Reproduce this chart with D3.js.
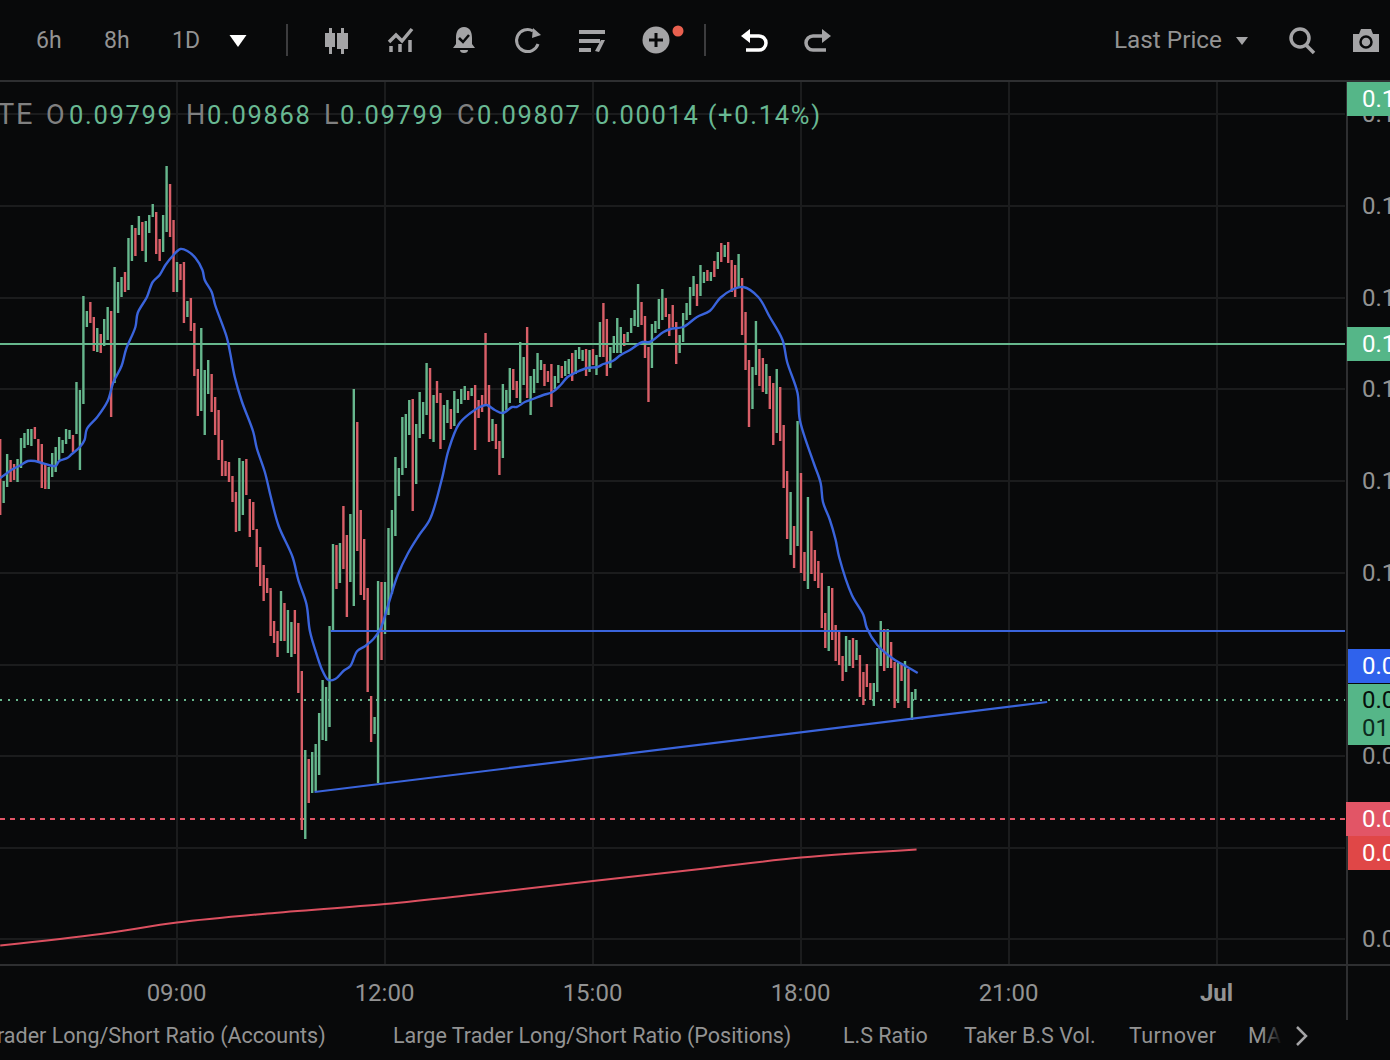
<!DOCTYPE html>
<html>
<head>
<meta charset="utf-8">
<script src="https://cdn.jsdelivr.net/npm/d3@7/dist/d3.min.js"></script>
<style>
  html, body { margin: 0; padding: 0; background: #08090a; overflow: hidden; }
  svg { display: block; font-family: Roboto, sans-serif; }
</style>
</head>
<body>
<svg id="chart" width="1390" height="1060"></svg>
<script>
// Three-minute bars from 06:27; prices are integers of 0.00001.
const barHighs = [
10329,10245,10299,10287,10279,10289,10331,10341,10349,10349,10353,10329,10319,10281,10273,10301,10313,10333,10327,10349,
10347,10337,10443,10427,10615,10585,10603,10573,10551,10539,10569,10593,10585,10673,10643,10653,10663,10731,10757,10751,
10775,10763,10765,10777,10799,10783,10729,10777,10875,10839,10767,10683,10679,10683,10605,10611,10561,10469,10551,10467,
10487,10459,10413,10387,10327,10285,10283,10255,10223,10291,10285,10289,10209,10203,10149,10113,10077,10051,10031,9965,
9945,10025,10001,9987,9963,9987,9961,9865,9707,9689,9703,9719,9781,9847,9833,9955,10119,10117,10121,10195,
10137,10179,10429,10363,10187,10129,10031,9815,9773,10045,10043,10043,10151,10187,10293,10271,10373,10379,10407,10409,
10359,10423,10403,10481,10471,10417,10445,10421,10397,10407,10389,10425,10409,10429,10435,10425,10431,10437,10407,10417,
10541,10437,10369,10359,10325,10439,10427,10471,10469,10445,10523,10493,10553,10455,10469,10501,10487,10479,10465,10479,
10455,10477,10475,10485,10489,10501,10507,10513,10507,10509,10507,10509,10497,10563,10601,10569,10513,10535,10571,10553,
10539,10543,10571,10587,10639,10603,10575,10513,10559,10565,10609,10629,10611,10579,10597,10563,10537,10581,10601,10633,
10655,10639,10677,10663,10667,10663,10685,10703,10721,10717,10723,10687,10677,10699,10651,10583,10487,10473,10565,10509,
10491,10479,10455,10441,10469,10433,10357,10265,10223,10155,10365,10261,10103,10213,10145,10107,10085,10061,9981,10035,
10031,9957,9945,9895,9935,9927,9931,9927,9897,9863,9879,9841,9841,9911,9965,9949,9949,9923,9883,9881,
9879,9885,9869,9823,9829];
const barLows = [
10177,10201,10233,10243,10247,10243,10271,10311,10317,10315,10329,10281,10231,10229,10229,10253,10263,10287,10301,10319,
10329,10303,10339,10267,10399,10553,10561,10505,10503,10501,10515,10527,10373,10441,10581,10613,10623,10627,10685,10695,
10737,10705,10683,10741,10773,10699,10685,10703,10743,10733,10623,10623,10647,10561,10573,10545,10455,10375,10385,10337,
10419,10383,10337,10287,10255,10255,10243,10203,10143,10145,10177,10217,10133,10147,10073,10035,10005,10021,9935,9921,
9893,9925,9925,9901,9893,9899,9821,9547,9529,9601,9621,9625,9657,9727,9725,9753,9945,10029,10041,10069,
9973,10043,9995,10105,10017,10007,9823,9723,9739,9641,9887,9939,9977,10019,10135,10215,10257,10271,10337,10185,
10239,10331,10339,10377,10329,10323,10401,10309,10327,10361,10349,10355,10381,10399,10407,10407,10415,10307,10371,10383,
10397,10323,10325,10309,10257,10291,10387,10401,10427,10411,10401,10437,10411,10377,10421,10441,10467,10435,10443,10393,
10429,10441,10451,10455,10459,10445,10459,10489,10485,10455,10463,10477,10457,10493,10493,10455,10471,10501,10501,10501,
10515,10523,10541,10555,10553,10557,10491,10403,10471,10541,10549,10567,10573,10535,10553,10479,10501,10523,10567,10577,
10615,10595,10615,10641,10645,10645,10653,10669,10683,10693,10681,10623,10613,10631,10537,10467,10353,10389,10457,10435,
10423,10419,10389,10317,10341,10325,10231,10129,10097,10071,10115,10061,10045,10029,10059,10045,10031,9951,9911,9905,
9927,9885,9877,9845,9863,9875,9871,9887,9813,9797,9833,9807,9795,9823,9875,9865,9871,9871,9791,9801,
9845,9805,9791,9767,9807];
const barDirections = (
"rggrrggggg" + "rrrrgggggg" + "grggggrrgr" + "ggrgggrggr" + "grgggrrggr" +
"rgrrgrrrgg" + "grrrrrrrrg" + "grrrrrrrrr" + "rgrggrrrgr" + "gggggggrgr" +
"rggrrrrrgg" + "rggggggggr" + "ggggrgrrgg" + "rggggrgrrr" + "rrgrrgggrr" +
"ggrggggrrr" + "ggrggrgggr" + "grggrrgggg" + "rggggrrrgg" + "ggrrrrgggg" +
"grggrgrgrg" + "rrrgrrrggr" + "rgrrgrrrgr" + "grrgrrrrrg" + "rrrrggrgrr" +
"rrgggrgrrg" + "rgrgg").split("");

// Fast average: minutes after 06:27 and the average at that minute.
const fastMaMinutes = [0,6,11,18,24,30,36,42,48,51,58,62,69,73,75,84,93,98,105,109,117,119,127,132,138,143,150,156,162,169,175,177,183,186,196,199,203,209,219,222,229,234,241,253,258,265,268,274,279,284,290,297,303,309,316,323,329,336,344,353,362,372,382,388,397,407,415,421,428,435,443,447,454,461,470,478,485,491,499,508,517,522,530,537,545,556,562,574,580,591,603,614,623,633,643,656,666,677,681,690,692,704,710,712,718,723,726,737,747,750,759,773,785,794];
const fastMaValues = [10251,10261,10269,10277,10285,10285,10281,10277,10275,10285,10291,10299,10313,10327,10349,10373,10405,10443,10475,10509,10553,10581,10613,10643,10657,10677,10697,10709,10705,10691,10667,10647,10623,10597,10533,10501,10453,10405,10343,10311,10263,10215,10155,10093,10047,9999,9945,9897,9865,9847,9849,9865,9875,9905,9915,9929,9949,9999,10057,10101,10135,10169,10247,10307,10359,10381,10393,10397,10387,10381,10393,10393,10403,10409,10417,10423,10437,10453,10463,10471,10473,10479,10485,10497,10507,10523,10523,10543,10549,10553,10573,10585,10611,10627,10633,10613,10573,10527,10483,10421,10367,10281,10241,10203,10167,10127,10093,10017,9977,9951,9917,9889,9873,9861];

// Slow average.
const slowMaMinutes = [0,87,153,231,333,407,513,606,693,793];
const slowMaValues = [9316,9339,9362,9380,9399,9417,9445,9469,9492,9508];

// Levels and trend line.
const resistanceLevel = 10519;
const supportLevel = 9569;
const zoneLevel = 9945;
const zoneStartMinute = 286;
const lastPrice = 9807;
const trendMinutes = [272, 906];
const trendValues = [9623, 9803];

// Axis contents; labels behind the price badges are left blank.
const priceTicks = [10979,10795,10611,10429,10245,10061,9877,9695,9511,9329];
const badgedTicks = [9877, 9511];
const timeTicksHours = [9, 12, 15, 18, 21, 24];
const timeFrames = [["6h", 36], ["8h", 104], ["1D", 172]];
const ohlcLabels = [["O", "0.09799"], ["H", "0.09868"], ["L", "0.09799"], ["C", "0.09807"]];
const bottomTabs = [
  ["rader Long/Short Ratio (Accounts)", -3], ["Large Trader Long/Short Ratio (Positions)", 393],
  ["L.S Ratio", 843], ["Taker B.S Vol.", 964], ["Turnover", 1129], ["MA", 1248]
];

const plot = { left: 0, right: 1347, top: 82, bottom: 965 };
const colors = {
  bg: "#08090a", grid: "#1b1c1d", axis: "#2e2f31", up: "#66b78d", down: "#d95f68", blue: "#3a64dc",
  text: "#939393", icon: "#a4a4a6", badgeUp: "#55b688", badgeBlue: "#2f62ec", badgeSoftRed: "#e25566", badgeRed: "#e04747",
  legend: "#68b892", legendKey: "#808080", slowMa: "#dc5060"
};

const day = Date.UTC(2024, 5, 30);
const atHour = h => new Date(day + h * 3600e3);
const startTime = day + (6 * 60 + 27) * 60e3;
const atMinute = m => new Date(startTime + m * 60e3);

// 3 h = 208 px, 09:00 sits at x = 177.
const x = d3.scaleUtc().domain([atHour(9), atHour(24)]).range([177, 1217]);
const y = d3.scaleLinear().domain([9807, 11207]).range([700, 0]);

const svg = d3.select("#chart");
svg.append("rect").attr("width", 1390).attr("height", 1060).attr("fill", colors.bg);

// Grid
svg.append("g").selectAll("line").data(priceTicks).join("line")
  .attr("x1", plot.left).attr("x2", plot.right - 2).attr("y1", d => y(d)).attr("y2", d => y(d))
  .attr("stroke", colors.grid).attr("stroke-width", 2);
svg.append("g").selectAll("line").data(timeTicksHours).join("line")
  .attr("x1", d => x(atHour(d))).attr("x2", d => x(atHour(d)))
  .attr("y1", plot.top).attr("y2", plot.bottom)
  .attr("stroke", colors.grid).attr("stroke-width", 2);

// Frame
svg.append("line").attr("x1", 0).attr("x2", 1390).attr("y1", 81).attr("y2", 81).attr("stroke", colors.axis).attr("stroke-width", 2);
svg.append("line").attr("x1", 0).attr("x2", 1390).attr("y1", plot.bottom).attr("y2", plot.bottom).attr("stroke", colors.axis).attr("stroke-width", 2);
svg.append("line").attr("x1", plot.right).attr("x2", plot.right).attr("y1", 81).attr("y2", 1020).attr("stroke", colors.axis).attr("stroke-width", 2);

// Axes
const yAxis = d3.axisRight(y).tickValues(priceTicks).tickSize(0).tickPadding(15)
  .tickFormat(d => badgedTicks.includes(d) ? "" : d3.format(".5f")(d / 1e5).slice(0, 3));
const yg = svg.append("g").attr("transform", `translate(${plot.right},0)`).call(yAxis);
yg.select(".domain").remove();
yg.selectAll("text").attr("fill", colors.text).attr("font-size", 24).attr("font-family", "Roboto, sans-serif");

const xAxis = d3.axisBottom(x).tickValues(timeTicksHours.map(atHour)).tickSize(0).tickPadding(19)
  .tickFormat(d => d.getUTCDate() === 1 ? "Jul" : d3.utcFormat("%H:%M")(d));
const xg = svg.append("g").attr("transform", `translate(-1,${plot.bottom})`).call(xAxis);
xg.select(".domain").remove();
xg.selectAll("text").attr("fill", colors.text).attr("font-size", 24).attr("font-family", "Roboto, sans-serif")
  .attr("font-weight", d => d.getUTCDate() === 1 ? 700 : 400);

// Horizontal levels
const level = (value, color, x1, dash, width) => svg.append("line")
  .attr("x1", x1).attr("x2", plot.right - 2).attr("y1", y(value)).attr("y2", y(value))
  .attr("stroke", color).attr("stroke-width", width).attr("stroke-dasharray", dash);
level(lastPrice, colors.up, 0, "2 6", 2);
level(supportLevel, colors.badgeSoftRed, 0, "5 5", 2);

// Bars
const bars = d3.range(barHighs.length);
svg.append("g").selectAll("rect").data(bars).join("rect")
  .attr("x", i => x(atMinute(i * 3)) - 1.2)
  .attr("width", 2.4)
  .attr("y", i => y(barHighs[i]))
  .attr("height", i => y(barLows[i]) - y(barHighs[i]))
  .attr("fill", i => barDirections[i] === "g" ? colors.up : colors.down);

level(resistanceLevel, colors.up, 0, null, 2);
level(zoneLevel, colors.blue, x(atMinute(zoneStartMinute)), null, 2.2);

// Moving averages and trend line
const seriesLine = d3.line().x(d => x(atMinute(d[0]))).y(d => y(d[1])).curve(d3.curveCatmullRom.alpha(0.5));
const drawSeries = (minutes, values, color, width) => svg.append("path")
  .datum(d3.zip(minutes, values)).attr("d", seriesLine)
  .attr("fill", "none").attr("stroke", color).attr("stroke-width", width).attr("stroke-linejoin", "round");
drawSeries(slowMaMinutes, slowMaValues, colors.slowMa, 2);
drawSeries(fastMaMinutes, fastMaValues, colors.blue, 2.4);
drawSeries(trendMinutes, trendValues, colors.blue, 2.2);

// Price badges on the axis
const badge = (yTop, h, fill, lines, left) => {
  svg.append("rect").attr("x", left).attr("y", yTop).attr("width", 1390 - left).attr("height", h).attr("fill", fill);
  lines.forEach(l => svg.append("text").attr("x", 1362).attr("y", l[0]).attr("fill", l[2])
    .attr("font-size", 24).text(l[1]));
};
badge(82, 34, colors.badgeUp, [[107, "0.1", "#fff"]], 1347);
badge(327, 34, colors.badgeUp, [[352, "0.1", "#fff"]], 1347);
badge(649, 34, colors.badgeBlue, [[674, "0.0", "#fff"]], 1348);
badge(684, 61, colors.badgeUp, [[708, "0.0", "#06100b"], [736, "01", "#0b2a1d"]], 1348);
badge(802, 34, colors.badgeSoftRed, [[827, "0.0", "#fff"]], 1346);
badge(836, 34, colors.badgeRed, [[861, "0.0", "#fff"]], 1348);

// Quote legend
const legend = svg.append("g").attr("font-size", 25.5).attr("letter-spacing", 1.7);
legend.append("text").attr("x", -3).attr("y", 124).attr("fill", colors.legendKey).attr("font-size", 29).text("TE");
const legendKeyX = [46, 186, 324, 457];
const legendValueX = [69, 207, 340, 477];
ohlcLabels.forEach((d, i) => {
  legend.append("text").attr("x", legendKeyX[i]).attr("y", 124).attr("fill", colors.legendKey).attr("font-size", 27).text(d[0]);
  legend.append("text").attr("x", legendValueX[i]).attr("y", 124).attr("fill", colors.legend).text(d[1]);
});
legend.append("text").attr("x", 595).attr("y", 124).attr("fill", colors.legend).text("0.00014 (+0.14%)");

// Toolbar
const tb = svg.append("g");
timeFrames.forEach(d => tb.append("text").attr("x", d[1]).attr("y", 48).attr("fill", colors.text).attr("font-size", 23).text(d[0]));
const tri = (cx, cy, w, h, fill) => tb.append("path").attr("d", `M${cx - w / 2},${cy - h / 2}H${cx + w / 2}L${cx},${cy + h / 2}Z`).attr("fill", fill);
tri(238, 41, 17, 12, "#fff");
tri(1242, 41, 12, 8, colors.icon);
[287, 705].forEach(sx => tb.append("line").attr("x1", sx).attr("x2", sx).attr("y1", 24).attr("y2", 56).attr("stroke", "#3c3c3e").attr("stroke-width", 2));
tb.append("text").attr("x", 1114).attr("y", 48).attr("fill", colors.text).attr("font-size", 24.3).text("Last Price");

const ic = colors.icon;
// candle icon
tb.append("path").attr("fill", ic).attr("d", "M329,28h3v5h3v14h-3v7h-3v-7h-4v-14h4zM341,28h3v5h4v16h-4v5h-3v-5h-4v-16h4z");
// indicators icon
tb.append("path").attr("fill", "none").attr("stroke", ic).attr("stroke-width", 3.5).attr("d", "M389,42L396,35L402,41L412,29M391,52V46M400,52V44M410,52V40");
// alert bell with tick
tb.append("path").attr("fill", ic).attr("d", "M464,27c6,0 8,5 8,11v6l3,4h-22l3,-4v-6c0,-6 2,-11 8,-11zM460,50h8a4,3 0 0 1 -8,0z");
tb.append("path").attr("fill", "none").attr("stroke", colors.bg).attr("stroke-width", 2.5).attr("d", "M459,38l4,4l6,-7");
// replay circle
tb.append("path").attr("fill", "none").attr("stroke", ic).attr("stroke-width", 3).attr("d", "M533,31a11,11 0 1 0 5,13");
tb.append("path").attr("fill", ic).attr("d", "M533,28l8,7l-9,3z");
// template list
tb.append("path").attr("fill", ic).attr("d", "M579,30h26v4h-26zM579,39h21v4h-21zM579,48h12v4h-12zM595,51l6,-11h4l-6,12z");
// add-indicator button
tb.append("circle").attr("cx", 656).attr("cy", 40).attr("r", 13.5).attr("fill", ic);
tb.append("path").attr("fill", "none").attr("stroke", colors.bg).attr("stroke-width", 3).attr("d", "M649,40h14M656,33v14");
tb.append("circle").attr("cx", 678).attr("cy", 31).attr("r", 5.5).attr("fill", "#e8604f");
// undo and redo
tb.append("path").attr("fill", "none").attr("stroke", "#fff").attr("stroke-width", 3.5).attr("d", "M746,36h13a7,7 0 0 1 0,14h-13");
tb.append("path").attr("fill", "#fff").attr("d", "M741,36l9,-7v14z");
tb.append("path").attr("fill", "none").attr("stroke", ic).attr("stroke-width", 3.5).attr("d", "M826,36h-13a7,7 0 0 0 0,14h13");
tb.append("path").attr("fill", ic).attr("d", "M831,36l-9,-7v14z");
// search
tb.append("circle").attr("cx", 1300).attr("cy", 38).attr("r", 9).attr("fill", "none").attr("stroke", ic).attr("stroke-width", 3.5);
tb.append("path").attr("stroke", ic).attr("stroke-width", 3.5).attr("d", "M1306,45l8,8");
// camera
tb.append("path").attr("fill", ic).attr("d", "M1353,34h6l2,-5h10l2,5h6v18h-26z");
tb.append("circle").attr("cx", 1366).attr("cy", 42).attr("r", 5.5).attr("fill", "none").attr("stroke", colors.bg).attr("stroke-width", 2.5);

// Indicator tabs
const tabs = svg.append("g").attr("font-size", 21.5).attr("fill", colors.text);
bottomTabs.forEach(d => tabs.append("text").attr("x", d[1]).attr("y", 1043)
  .attr("letter-spacing", d[0] === "Turnover" ? 0.45 : 0).text(d[0]));
const fadeDefs = svg.append("defs").append("linearGradient").attr("id", "tabFade");
fadeDefs.append("stop").attr("offset", 0).attr("stop-color", colors.bg).attr("stop-opacity", 0);
fadeDefs.append("stop").attr("offset", 1).attr("stop-color", colors.bg).attr("stop-opacity", 1);
svg.append("rect").attr("x", 1262).attr("y", 1020).attr("width", 20).attr("height", 36).attr("fill", "url(#tabFade)");
svg.append("rect").attr("x", 1282).attr("y", 1020).attr("width", 108).attr("height", 36).attr("fill", colors.bg);
svg.append("path").attr("fill", "none").attr("stroke", colors.icon).attr("stroke-width", 2.5).attr("d", "M1297,1027l9,9l-9,9");
</script>
</body>
</html>
